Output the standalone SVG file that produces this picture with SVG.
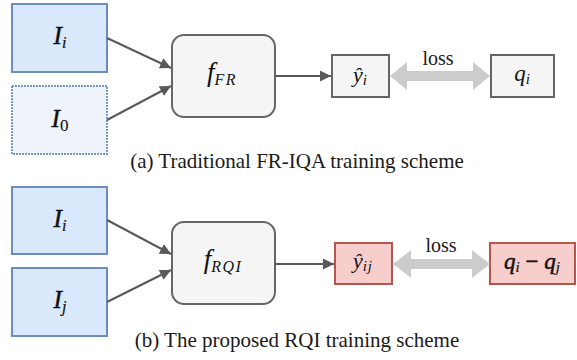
<svg xmlns="http://www.w3.org/2000/svg" width="577" height="360" viewBox="0 0 577 360">
  <defs>
    <marker id="arrow" viewBox="0 0 10 10" refX="10" refY="5" markerWidth="5.5" markerHeight="5.5" orient="auto" markerUnits="strokeWidth">
      <path d="M0,0 L10,5 L0,10 Z" fill="#595959"/>
    </marker>
  </defs>
  <style>
    .img { fill: #dae8fc; stroke: #6c8ebf; stroke-width: 2; }
    .ref { fill: #eef3fc; stroke: #6c8ebf; stroke-width: 2; stroke-dasharray: 1.8 1.2; }
    .net { fill: #f5f5f5; stroke: #666666; stroke-width: 2; }
    .out { fill: #f5f5f5; stroke: #666666; stroke-width: 2; }
    .tgt { fill: #f8cecc; stroke: #b85450; stroke-width: 2; }
    .link { stroke: #595959; stroke-width: 2; fill: none; marker-end: url(#arrow); }
    .loss { fill: #cccccc; stroke: none; }
    .math { font-family: "Liberation Serif", "DejaVu Serif", serif; font-style: italic; fill: #111; }
    .heavy { stroke: #111; stroke-width: 0.5; }
    .cap { font-family: "Liberation Serif", "Times New Roman", serif; font-size: 21px; fill: #1a1a1a; text-anchor: middle; }
    .lbl { font-family: "Liberation Serif", serif; font-size: 20px; fill: #1a1a1a; text-anchor: middle; }
  </style>

  <!-- (a) traditional scheme -->
  <g id="img-Ii-a">
    <rect class="img" x="12" y="4" width="95" height="68"/>
    <text class="math heavy" x="60" y="44" font-size="25" text-anchor="middle">I<tspan font-size="16" dy="4" stroke-width="0.2">i</tspan></text>
  </g>
  <g id="img-I0">
    <rect class="ref" x="12" y="86" width="95" height="68"/>
    <text class="math heavy" x="60" y="127" font-size="25" text-anchor="middle">I<tspan font-size="17" dy="4" font-style="normal" stroke-width="0.1">0</tspan></text>
  </g>
  <g id="net-fr">
    <rect class="net" x="172" y="35" width="103" height="82" rx="12"/>
    <text class="math" x="222" y="81" font-size="27" text-anchor="middle">f<tspan font-size="16" dy="4" letter-spacing="1.5">FR</tspan></text>
  </g>
  <g id="pred-a">
    <rect class="out" x="332" y="55" width="57" height="42"/>
    <text class="math" x="360" y="82" font-size="22" text-anchor="middle">ŷ<tspan font-size="15" dy="3">i</tspan></text>
  </g>
  <g id="target-a">
    <rect class="out" x="491" y="55" width="63" height="42"/>
    <text class="math" x="522" y="81" font-size="23" text-anchor="middle">q<tspan font-size="15" dy="3">i</tspan></text>
  </g>

  <!-- (b) proposed scheme -->
  <g id="img-Ii-b">
    <rect class="img" x="12" y="187" width="95" height="67"/>
    <text class="math heavy" x="60" y="227" font-size="25" text-anchor="middle">I<tspan font-size="16" dy="4" stroke-width="0.2">i</tspan></text>
  </g>
  <g id="img-Ij">
    <rect class="img" x="12" y="268" width="95" height="68"/>
    <text class="math heavy" x="60" y="308" font-size="25" text-anchor="middle">I<tspan font-size="16" dy="4" stroke-width="0.2">j</tspan></text>
  </g>
  <g id="net-rqi">
    <rect class="net" x="172" y="222" width="103" height="82" rx="12"/>
    <text class="math" x="223" y="268" font-size="27" text-anchor="middle">f<tspan font-size="16" dy="4" letter-spacing="1.5">RQI</tspan></text>
  </g>
  <g id="pred-b">
    <rect class="tgt" x="335" y="243" width="57" height="41"/>
    <text class="math" x="363" y="268" font-size="22" text-anchor="middle">ŷ<tspan font-size="15" dy="3" letter-spacing="1">ij</tspan></text>
  </g>
  <g id="target-b">
    <rect class="tgt" x="490" y="243" width="85" height="41"/>
    <text class="math heavy" x="532" y="269" font-size="23" text-anchor="middle">q<tspan font-size="15" dy="3" stroke-width="0.2">i</tspan><tspan font-style="normal" dy="-3"> − </tspan>q<tspan font-size="15" dy="3" stroke-width="0.2">j</tspan></text>
  </g>

  <!-- connectors -->
  <g id="connectors">
    <line class="link" x1="107" y1="38" x2="171" y2="68"/>
    <line class="link" x1="107" y1="120" x2="171" y2="86"/>
    <line class="link" x1="275" y1="76" x2="331" y2="76"/>
    <line class="link" x1="107" y1="220" x2="171" y2="254"/>
    <line class="link" x1="107" y1="302" x2="171" y2="270"/>
    <line class="link" x1="275" y1="264" x2="334" y2="264"/>
    <path class="loss" d="M390,76 L407,62 L407,71 L473,71 L473,62 L490,76 L473,90 L473,81 L407,81 L407,90 Z"/>
    <path class="loss" d="M393,264 L411,250 L411,259 L472,259 L472,250 L490,264 L472,278 L472,269 L411,269 L411,278 Z"/>
    <text class="lbl" x="438" y="65">loss</text>
    <text class="lbl" x="441" y="252">loss</text>
  </g>

  <!-- captions -->
  <text class="cap" x="297" y="168">(a) Traditional FR-IQA training scheme</text>
  <text class="cap" x="297" y="347">(b) The proposed RQI training scheme</text>
</svg>
